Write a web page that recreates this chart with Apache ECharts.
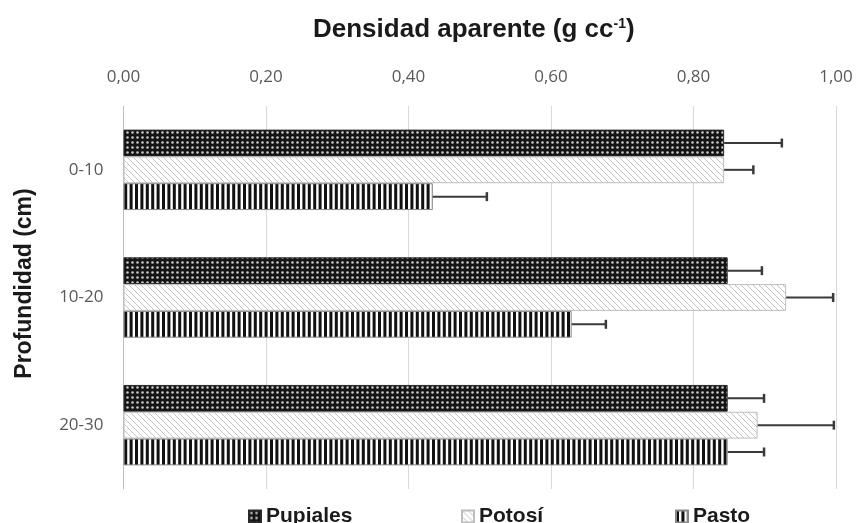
<!DOCTYPE html>
<html>
<head>
<meta charset="utf-8">
<script src="https://cdn.jsdelivr.net/npm/echarts@6/dist/echarts.min.js"></script>
<style>
  html, body { margin: 0; padding: 0; background: #fff; }
  #chart { width: 856px; height: 523px; }
</style>
</head>
<body>
<div id="chart"></div>
<script>
// Bulk density by depth and site
const depths = ['0-10', '10-20', '20-30'];
const seriesNames = ['Pupiales', 'Potosí', 'Pasto'];
const pupiales = [0.843, 0.848, 0.848];
const potosi = [0.843, 0.930, 0.890];
const pasto = [0.434, 0.629, 0.848];
const pupialesErr = [0.081, 0.048, 0.051];
const potosiErr = [0.041, 0.066, 0.107];
const pastoErr = [0.076, 0.048, 0.051];
const xTicks = [0, 0.2, 0.4, 0.6, 0.8, 1.0];

const values = [pupiales, potosi, pasto];
const errors = [pupialesErr, potosiErr, pastoErr];

// Fill patterns drawn on small canvases
function dotPattern() {
  const c = document.createElement('canvas');
  c.width = 5; c.height = 5;
  const g = c.getContext('2d');
  g.fillStyle = '#141414';
  g.fillRect(0, 0, 5, 5);
  g.fillStyle = '#c8c8c8';
  g.beginPath();
  g.arc(2.5, 2.5, 1.3, 0, Math.PI * 2);
  g.fill();
  return c;
}
function diagPattern() {
  const c = document.createElement('canvas');
  c.width = 6; c.height = 6;
  const g = c.getContext('2d');
  g.fillStyle = '#ffffff';
  g.fillRect(0, 0, 6, 6);
  g.strokeStyle = '#c4c4c4';
  g.lineWidth = 1;
  g.beginPath();
  g.moveTo(-1, -1); g.lineTo(7, 7);
  g.moveTo(-1, 5); g.lineTo(1, 7);
  g.moveTo(5, -1); g.lineTo(7, 1);
  g.stroke();
  return c;
}
function stripePattern() {
  const c = document.createElement('canvas');
  c.width = 27; c.height = 4;
  const g = c.getContext('2d');
  g.fillStyle = '#ffffff';
  g.fillRect(0, 0, 27, 4);
  g.fillStyle = '#111111';
  for (let i = 0; i < 5; i++) g.fillRect(i * 5.4, 0, 3, 4);
  return c;
}

const fills = [
  { image: dotPattern(), repeat: 'repeat' },
  { image: diagPattern(), repeat: 'repeat' },
  { image: stripePattern(), repeat: 'repeat' }
];
const borders = ['#2a2a2a', '#bdbdbd', '#8a8a8a'];

const CAT_GAP = 0.37;

const chart = echarts.init(document.getElementById('chart'), null, { renderer: 'canvas' });

const barSeries = seriesNames.map((name, s) => ({
  name: name,
  type: 'bar',
  barGap: '0%',
  barCategoryGap: (CAT_GAP * 100) + '%',
  data: values[s],
  itemStyle: { color: fills[s], borderColor: borders[s], borderWidth: 1 },
  emphasis: { disabled: true },
  z: 2
}));

// error bars (positive direction only)
const errData = [];
for (let s = 0; s < 3; s++) {
  for (let i = 0; i < depths.length; i++) {
    errData.push([values[s][i], i, errors[s][i], s]);
  }
}
const errSeries = {
  type: 'custom',
  name: 'err',
  data: errData,
  encode: { x: 0, y: 1 },
  z: 5,
  silent: true,
  renderItem: function (params, api) {
    const v = api.value(0), cat = api.value(1), e = api.value(2), s = api.value(3);
    const band = api.size([0, 1])[1];
    const barH = band * (1 - CAT_GAP) / 3;
    const center = api.coord([v, cat]);
    const y = center[1] - 1.5 * barH + (s + 0.5) * barH;
    const x0 = center[0];
    const x1 = api.coord([v + e, cat])[0];
    const cap = 4.5;
    const style = { stroke: '#3a3a3a', lineWidth: 2 };
    return {
      type: 'group',
      children: [
        { type: 'line', shape: { x1: x0, y1: y, x2: x1, y2: y }, style: style },
        { type: 'line', shape: { x1: x1, y1: y - cap, x2: x1, y2: y + cap }, style: { stroke: '#3a3a3a', lineWidth: 2.5 } }
      ]
    };
  }
};

const legendX = [243, 456, 670];
const legends = seriesNames.map((name, s) => ({
  data: [name],
  left: legendX[s],
  top: 501,
  itemWidth: 12,
  itemHeight: 12,
  itemGap: 10,
  icon: 'rect',
  selectedMode: false,
  textStyle: { fontFamily: 'Liberation Sans, Arial, sans-serif', fontWeight: 'bold', fontSize: 21, color: '#1a1a1a' }
}));

chart.setOption({
  animation: false,
  backgroundColor: '#ffffff',
  title: {
    text: '{t|Densidad aparente (g cc}{s|-1}{t|)}',
    left: 308,
    top: 12,
    textStyle: {
      rich: {
        t: { fontFamily: 'Liberation Sans, Arial, sans-serif', fontWeight: 'bold', fontSize: 26, color: '#1a1a1a' },
        s: { fontFamily: 'Liberation Sans, Arial, sans-serif', fontWeight: 'bold', fontSize: 14, color: '#1a1a1a', verticalAlign: 'top', padding: [0, 0, 12, 0] }
      }
    }
  },
  legend: legends,
  grid: { left: 123.5, right: 20, top: 106, bottom: 34 },
  xAxis: {
    type: 'value',
    position: 'top',
    min: xTicks[0],
    max: xTicks[xTicks.length - 1],
    interval: 0.2,
    axisLine: { show: false },
    axisTick: { show: false },
    splitLine: { lineStyle: { color: '#d9d9d9', width: 1 } },
    axisLabel: {
      margin: 20,
      fontFamily: 'Open Sans, sans-serif',
      fontSize: 17,
      color: '#595959',
      formatter: v => v.toFixed(2).replace('.', ',')
    }
  },
  yAxis: {
    type: 'category',
    data: depths,
    inverse: true,
    axisLine: { lineStyle: { color: '#bfbfbf', width: 1 } },
    axisTick: { length: 5, lineStyle: { color: '#bfbfbf' } },
    axisLabel: { margin: 20, fontFamily: 'Open Sans, sans-serif', fontSize: 17, color: '#595959' },
    name: 'Profundidad (cm)',
    nameLocation: 'middle',
    nameGap: 87,
    nameTextStyle: {
      fontFamily: 'Liberation Sans, Arial, sans-serif',
      fontWeight: 'bold',
      fontSize: 23,
      color: '#1a1a1a',
      padding: [0, 0, 0, 28]
    }
  },
  series: barSeries.concat([errSeries])
});
</script>
</body>
</html>
